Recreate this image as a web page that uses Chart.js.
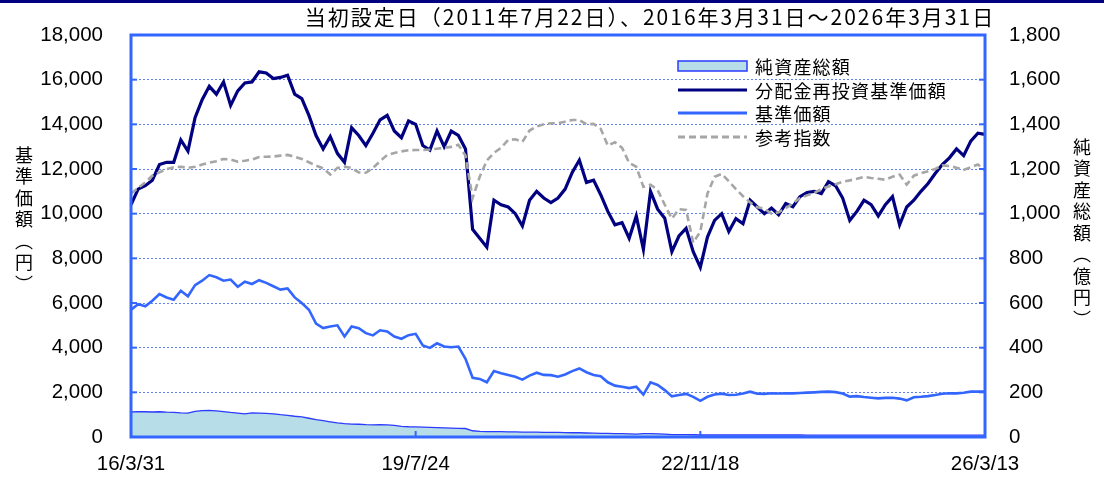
<!DOCTYPE html>
<html><head><meta charset="utf-8">
<script src="https://cdn.jsdelivr.net/npm/chart.js@4/dist/chart.umd.min.js"></script>
<style>
html,body{margin:0;padding:0;background:#fff;}
#wrap{position:relative;width:1104px;height:479px;overflow:hidden;background:#fff;}
#topbar{position:absolute;left:0;top:0;width:1104px;height:3px;background:#000080;}
canvas{position:absolute;left:0;top:0;}
.vt{position:absolute;writing-mode:vertical-rl;font-family:"Noto Sans CJK JP";font-size:18px;line-height:20px;letter-spacing:3.5px;color:#000;}
</style></head>
<body>
<div id="wrap">
<canvas id="c" width="1104" height="479"></canvas>
<div id="topbar"></div>
<div class="vt" style="left:14px;top:146px;">基準価額（円）</div>
<div class="vt" style="left:1072px;top:138px;">純資産総額（億円）</div>
</div>
<script>
const titleText = '当初設定日（2011年7月22日）、2016年3月31日～2026年3月31日';
const seriesNames = ['純資産総額','分配金再投資基準価額','基準価額','参考指数'];
const xTickLabels = ['16/3/31','19/7/24','22/11/18','26/3/13'];
const xTickIdx = [0,40,80,120];

const categories = [];
for (let i = 0; i < 121; i++) {
  const m = 2 + i; // month offset from Jan 2016
  const yy = 16 + Math.floor(m / 12), mm = (m % 12) + 1;
  categories.push(yy + '/' + mm);
}

const navReinv = [10400,11100,11250,11500,12200,12300,12300,13300,12800,14300,
15100,15700,15350,15900,14850,15500,15850,15900,16350,16300,
16050,16100,16200,15350,15150,14400,13500,12900,13450,12700,
12300,13850,13500,13050,13600,14200,14400,13700,13400,14150,
14000,13050,12850,13700,13000,13700,13500,12900,9300,8900,
8500,10600,10400,10300,10000,9450,10600,11000,10700,10500,
10700,11100,11850,12400,11400,11500,10850,10100,9500,9600,
8900,9900,8400,11000,10200,9800,8300,9000,9345,8300,
7600,8950,9700,10000,9200,9780,9550,10600,10300,10000,
10250,9950,10450,10310,10760,10950,11000,10900,11435,11250,
10700,9700,10100,10600,10400,9900,10400,10760,9500,10300,
10600,11000,11350,11800,12200,12500,12900,12600,13250,13600,
13550];

const bench = [10900,11150,11400,11700,11850,12000,12080,12100,12050,12100,
12200,12280,12350,12450,12420,12330,12370,12420,12540,12550,
12560,12600,12630,12550,12450,12300,12150,12030,11750,12050,
12100,12050,11850,11830,12050,12350,12630,12720,12790,12840,
12850,12850,12870,12910,12950,12990,13080,12600,10700,11650,
12380,12720,12950,13300,13330,13220,13720,13900,14000,14050,
14050,14120,14195,14195,14000,14020,13800,13050,13200,12950,
12270,12100,11200,11300,11060,10400,9780,10200,10170,8700,
9200,10900,11650,11780,11450,11100,10780,10500,10290,10220,
10000,10060,10250,10460,10700,10820,10930,11100,11220,11320,
11430,11490,11560,11650,11600,11560,11520,11650,11750,11300,
11700,11810,11900,12000,12160,12130,12060,11960,12080,12200,
11950];

const nav = [5700,5950,5850,6100,6400,6250,6150,6550,6300,6800,
7000,7250,7150,7000,7050,6730,6950,6850,7020,6900,
6750,6600,6650,6250,6000,5700,5080,4880,4950,5000,
4500,4950,4870,4650,4550,4780,4730,4500,4400,4560,
4620,4100,3990,4195,4050,4020,4050,3500,2650,2600,
2450,2950,2850,2780,2700,2570,2750,2880,2780,2770,
2700,2800,2950,3070,2900,2780,2720,2450,2300,2250,
2190,2250,1900,2450,2330,2100,1820,1880,1930,1800,
1620,1800,1900,1940,1880,1890,1950,2030,1940,1930,
1960,1950,1960,1955,1970,1985,2000,2020,2030,2010,
1950,1810,1830,1790,1760,1730,1750,1760,1720,1640,
1780,1800,1830,1880,1940,1960,1955,1980,2030,2040,
2030];

const netAssets = [112,114,113,112,113,111,110,108,107,115,
118,119,117,114,110,107,104,108,107,106,
104,100,97,93,90,84,78,73,68,63,
60,58,57,55,54,55,54,52,48,46,
45,44,43,42,41,40,39,38,28,25,
24,24,24,23,23,22,22,22,21,21,
21,20,19,19,18,17,16,16,15,15,
14,13,15,15,14,13,11,11,11,10,
9,9,9,9,9,9,9,9,9,9,
9,9,9,9,9,8,8,8,8,8,
8,8,8,8,8,8,8,8,8,8,
8,8,8,8,8,8,8,8,8,8,
8];

const AXIS_BLUE = '#3366FF';
const tickFont = {family:'"Liberation Sans", Arial, sans-serif', size:20.5};
const cjk = '"Noto Sans CJK JP", sans-serif';

const decor = {
  id:'decor',
  afterDraw(chart){
    const {ctx, chartArea:{left,right,top,bottom}, scales} = chart;
    ctx.save();
    ctx.fillStyle = '#000';
    ctx.font = '21px ' + cjk;
    try { ctx.letterSpacing = '2px'; } catch(e) {}
    ctx.textAlign = 'center';
    ctx.textBaseline = 'alphabetic';
    ctx.fillText(titleText, 650, 25);
    try { ctx.letterSpacing = '0px'; } catch(e) {}
    ctx.strokeStyle = AXIS_BLUE; ctx.lineWidth = 2; ctx.setLineDash([]);
    scales.y.ticks.forEach(t => {
      const y = scales.y.getPixelForValue(t.value);
      ctx.beginPath(); ctx.moveTo(left, y); ctx.lineTo(left + 6, y); ctx.stroke();
    });
    scales.y2.ticks.forEach(t => {
      const y = scales.y2.getPixelForValue(t.value);
      ctx.beginPath(); ctx.moveTo(right - 6, y); ctx.lineTo(right, y); ctx.stroke();
    });
    xTickIdx.slice(1).forEach(i => {
      const x = scales.x.getPixelForValue(i);
      ctx.beginPath(); ctx.moveTo(x, bottom); ctx.lineTo(x, bottom - 6); ctx.stroke();
    });
    ctx.lineWidth = 3;
    ctx.strokeRect(left, top, right - left, bottom - top);
    const ds = chart.data.datasets;
    const lx0 = 678, lx1 = 747, tx = 755;
    const rows = [66, 90, 113, 137];
    const legendOrder = [0, 1, 2, 3];
    ctx.font = '18px ' + cjk;
    try { ctx.letterSpacing = '1.2px'; } catch(e) {}
    ctx.textAlign = 'left'; ctx.textBaseline = 'middle';
    legendOrder.forEach((di, r) => {
      const d = ds[di]; const y = rows[r];
      if (d.fill) {
        ctx.fillStyle = d.backgroundColor;
        ctx.fillRect(lx0, y - 5, lx1 - lx0, 10);
        ctx.strokeStyle = d.borderColor; ctx.lineWidth = 1.5; ctx.setLineDash([]);
        ctx.strokeRect(lx0, y - 5, lx1 - lx0, 10);
      } else {
        ctx.strokeStyle = d.borderColor; ctx.lineWidth = 3;
        ctx.setLineDash(d.borderDash || []);
        ctx.beginPath(); ctx.moveTo(lx0, y); ctx.lineTo(lx1, y); ctx.stroke();
        ctx.setLineDash([]);
      }
      ctx.fillStyle = '#000';
      ctx.fillText(d.label, tx, y + 1);
    });
    ctx.restore();
  }
};

new Chart(document.getElementById('c'), {
  type:'line',
  data:{
    labels: categories,
    datasets:[
      {label:seriesNames[0], data:netAssets, yAxisID:'y2', fill:'origin', backgroundColor:'#B7DDE8', borderColor:'#2B3BFF', borderWidth:1.3, pointRadius:0, order:4},
      {label:seriesNames[1], data:navReinv, yAxisID:'y', fill:false, borderColor:'#000080', borderWidth:3.2, pointRadius:0, order:2},
      {label:seriesNames[2], data:nav, yAxisID:'y', fill:false, borderColor:'#3366FF', borderWidth:2.6, pointRadius:0, order:3},
      {label:seriesNames[3], data:bench, yAxisID:'y', fill:false, borderColor:'#A6A6A6', borderDash:[7,4], borderWidth:2.6, pointRadius:0, order:1}
    ]
  },
  options:{
    responsive:false, animation:false,
    layout:{padding:{top:35,left:0,right:0,bottom:0}},
    plugins:{legend:{display:false}, tooltip:{enabled:false}, title:{display:false}},
    elements:{line:{tension:0}},
    scales:{
      x:{type:'category', offset:false,
         grid:{display:false, drawTicks:false}, border:{display:false},
         ticks:{autoSkip:false, maxRotation:0, minRotation:0, padding:15, color:'#000', font:tickFont,
           callback:(v,i)=>{ const k = xTickIdx.indexOf(i); return k >= 0 ? xTickLabels[k] : ''; }},
         afterFit(s){ s.height = 42; }},
      y:{position:'left', min:0, max:18000,
         grid:{color:'#5F82F2', lineWidth:1, drawTicks:true, tickLength:25, tickColor:'rgba(0,0,0,0)'},
         border:{display:false, dash:[2,2]},
         ticks:{stepSize:2000, padding:3, color:'#000', font:tickFont,
           callback:v=>v.toLocaleString('en-US')},
         afterFit(s){ s.width = 131; }},
      y2:{position:'right', min:0, max:1800,
         grid:{display:true, drawOnChartArea:false, drawTicks:true, tickLength:21, color:'rgba(0,0,0,0)', tickColor:'rgba(0,0,0,0)'},
         border:{display:false},
         ticks:{stepSize:200, padding:3, color:'#000', font:tickFont,
           callback:v=>v.toLocaleString('en-US')},
         afterFit(s){ s.width = 119; }}
    }
  },
  plugins:[decor]
});
</script>
</body></html>
